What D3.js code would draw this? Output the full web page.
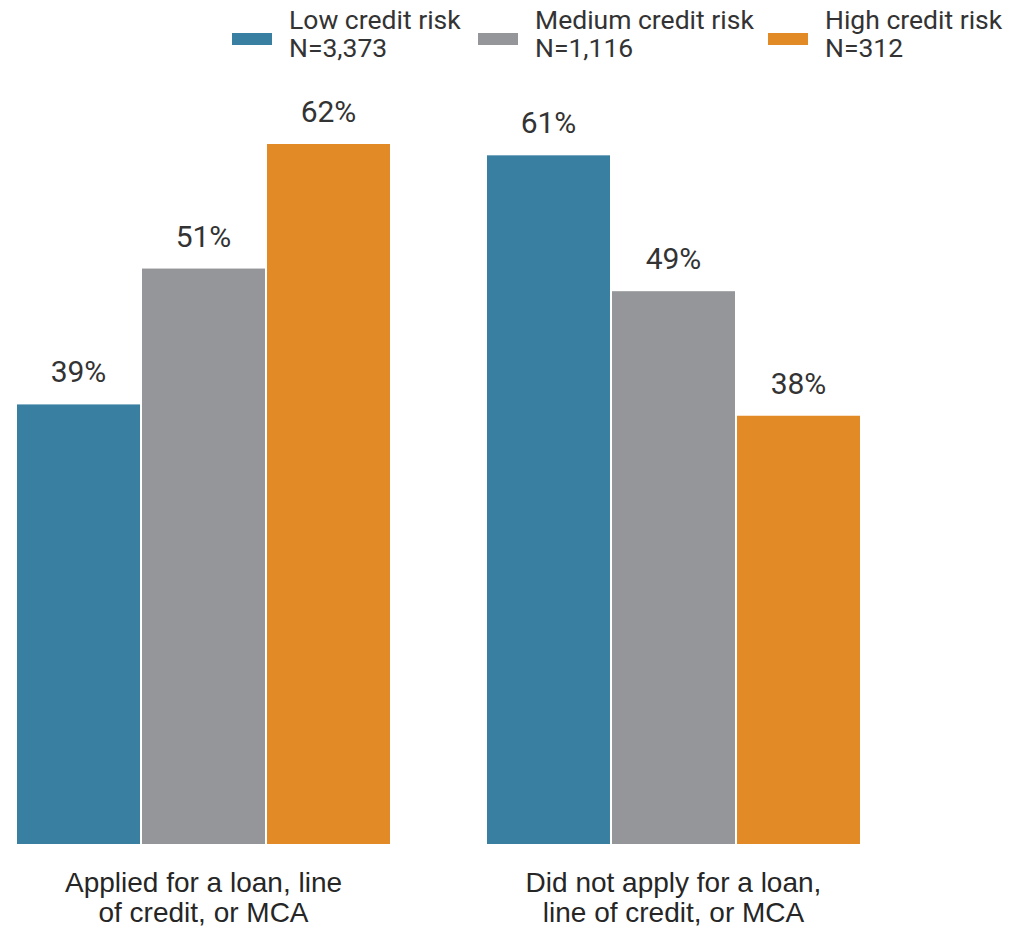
<!DOCTYPE html>
<html>
<head>
<meta charset="utf-8">
<script src="https://cdn.jsdelivr.net/npm/d3@7"></script>
<style>
  html, body { margin: 0; padding: 0; background: #fff; }
  svg { display: block; }
</style>
</head>
<body>
<svg id="chart" width="1011" height="929"></svg>
<script>
const groups = ["Applied for a loan, line\nof credit, or MCA", "Did not apply for a loan,\nline of credit, or MCA"];
const seriesNames = ["Low credit risk", "Medium credit risk", "High credit risk"];
const seriesN = ["N=3,373", "N=1,116", "N=312"];
const lowValues = [39, 61];
const mediumValues = [51, 49];
const highValues = [62, 38];
const colors = ["#387fa1", "#959699", "#e28b26"];

const seriesValues = [lowValues, mediumValues, highValues];
const data = [];
groups.forEach((g, gi) => {
  seriesNames.forEach((s, si) => {
    data.push({ group: g, series: s, value: seriesValues[si][gi], color: colors[si] });
  });
});

const svg = d3.select("#chart");

const x0 = d3.scaleBand().domain(groups).range([16, 861]).paddingInner(0.2021).paddingOuter(0);
const x1 = d3.scaleBand().domain(seriesNames).range([0, x0.bandwidth()]).padding(0);
const y = d3.scaleLinear().domain([0, 62]).range([845, 143]);

// bars
svg.append("g").selectAll("rect").data(data).join("rect")
  .attr("x", d => x0(d.group) + x1(d.series))
  .attr("y", d => y(d.value))
  .attr("width", x1.bandwidth())
  .attr("height", d => y(0) - y(d.value))
  .attr("fill", d => d.color)
  .attr("stroke", "#fff")
  .attr("stroke-width", 2);

// value labels
svg.append("g").selectAll("text").data(data).join("text")
  .attr("x", d => x0(d.group) + x1(d.series) + x1.bandwidth() / 2)
  .attr("y", d => y(d.value) - 21)
  .attr("text-anchor", "middle")
  .attr("font-family", "Roboto, sans-serif")
  .attr("font-size", 30)
  .attr("fill", "#333")
  .text(d => d.value + "%");

// category axis
const xAxis = svg.append("g");
groups.forEach(g => {
  const lines = g.split("\n");
  const t = xAxis.append("text")
    .attr("x", x0(g) + x0.bandwidth() / 2)
    .attr("y", 892)
    .attr("text-anchor", "middle")
    .attr("font-family", "'Liberation Sans', Arial, sans-serif")
    .attr("font-size", 28)
    .attr("fill", "#262626");
  lines.forEach((l, i) => {
    t.append("tspan").attr("x", x0(g) + x0.bandwidth() / 2).attr("y", 892 + i * 30).text(l);
  });
});

// legend
const legendX = [232, 478, 768];
const legend = svg.append("g");
seriesNames.forEach((s, i) => {
  const g = legend.append("g").attr("transform", `translate(${legendX[i]},0)`);
  g.append("rect").attr("x", 0).attr("y", 33).attr("width", 40).attr("height", 12).attr("fill", colors[i]);
  const t = g.append("text")
    .attr("font-family", "Roboto, sans-serif")
    .attr("font-size", 26.5)
    .attr("fill", "#333");
  t.append("tspan").attr("x", 57).attr("y", 29).text(s);
  t.append("tspan").attr("x", 57).attr("y", 57).text(seriesN[i]);
});
</script>
</body>
</html>
